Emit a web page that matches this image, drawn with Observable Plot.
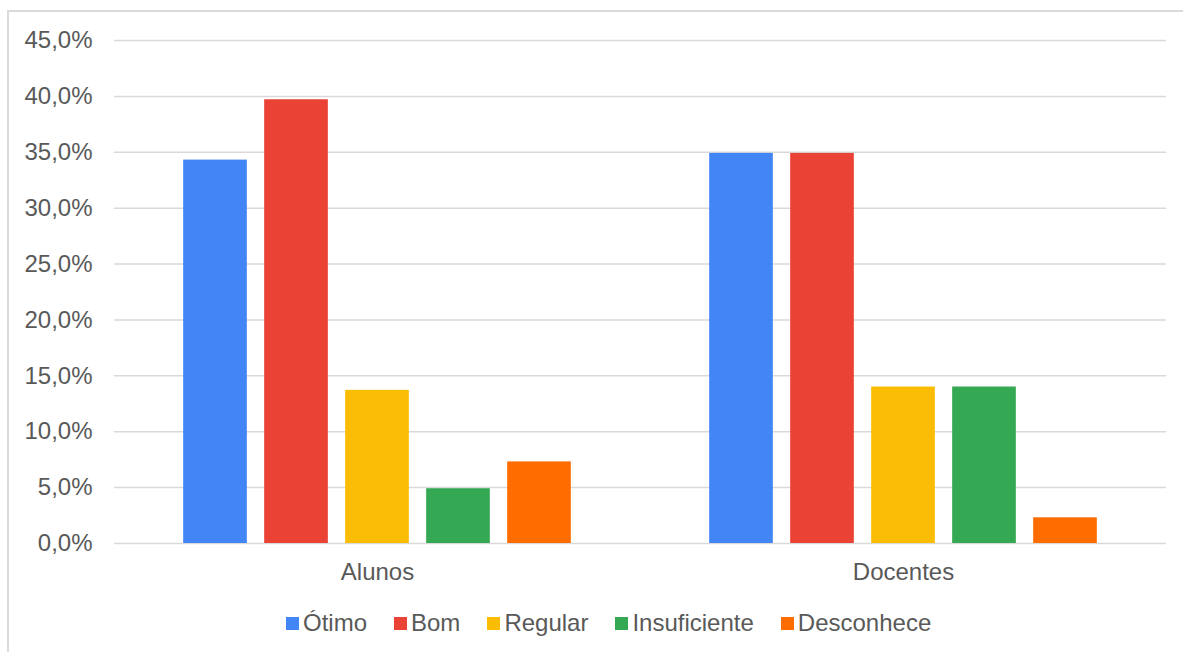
<!DOCTYPE html>
<html><head><meta charset="utf-8">
<script src="https://cdn.jsdelivr.net/npm/d3@7"></script>
<script src="https://cdn.jsdelivr.net/npm/@observablehq/plot@0.6"></script>
<style>
body{margin:0;background:#fff;font-family:"Liberation Sans",Arial,sans-serif;}
#wrap{position:relative;width:1183px;height:652px;overflow:hidden;}
#frame{position:absolute;left:7px;top:10px;width:1200px;height:700px;border:2px solid #dadada;box-sizing:border-box;}
#chart{position:absolute;left:0;top:0;}
#legend{position:absolute;left:286px;top:608px;height:30px;display:flex;align-items:center;font-size:24px;color:#595959;white-space:nowrap;}
.item{display:flex;align-items:center;margin-right:27px;}
.sw{width:13px;height:13px;margin-right:4px;flex:none;}
</style></head><body>
<div id="wrap"><div id="frame"></div><div id="chart"></div><div id="legend"></div></div>
<script>
const grupos = ["Alunos", "Docentes"];
const categorias = ["Ótimo", "Bom", "Regular", "Insuficiente", "Desconhece"];
const alunos = [34.3, 39.7, 13.7, 4.9, 7.3];
const docentes = [34.9, 34.9, 14.0, 14.0, 2.3];
const yTicks = [0, 5, 10, 15, 20, 25, 30, 35, 40, 45];
const cores = ["#4285F4", "#EA4335", "#FBBC04", "#34A853", "#FF6D01"];

const valores = {Alunos: alunos, Docentes: docentes};
const data = grupos.flatMap(g => categorias.map((c, i) => ({grupo: g, categoria: c, valor: valores[g][i]})));
const fmt = d => d.toFixed(1).replace(".", ",") + "%";

const plot = Plot.plot({
  width: 1183, height: 600,
  marginTop: 40, marginBottom: 57, marginLeft: 114, marginRight: 17,
  style: {fontFamily: "'Liberation Sans', Arial, sans-serif", fontSize: "24px", color: "#595959", background: "transparent"},
  fx: {domain: grupos, padding: 0, round: false, label: null, axis: "bottom", tickSize: 0, tickPadding: 19},
  x: {domain: categorias, paddingInner: 0.214, paddingOuter: 0.854, round: false, axis: null},
  y: {domain: [0, 45], ticks: yTicks, tickFormat: fmt, tickSize: 0, tickPadding: 22, label: null},
  color: {domain: categorias, range: cores},
  marks: [
    Plot.ruleY(yTicks, {stroke: "#d9d9d9", strokeWidth: 1.5}),
    Plot.barY(data, {fx: "grupo", x: "categoria", y: "valor", fill: "categoria"})
  ]
});
document.getElementById("chart").appendChild(plot);

const cs = plot.scale("color");
const leg = document.getElementById("legend");
cs.domain.forEach((d, i) => {
  const it = document.createElement("div");
  it.className = "item";
  const sw = document.createElement("span");
  sw.className = "sw";
  sw.style.background = cs.range[i];
  const t = document.createElement("span");
  t.textContent = d;
  it.appendChild(sw); it.appendChild(t);
  leg.appendChild(it);
});
</script>
</body></html>
